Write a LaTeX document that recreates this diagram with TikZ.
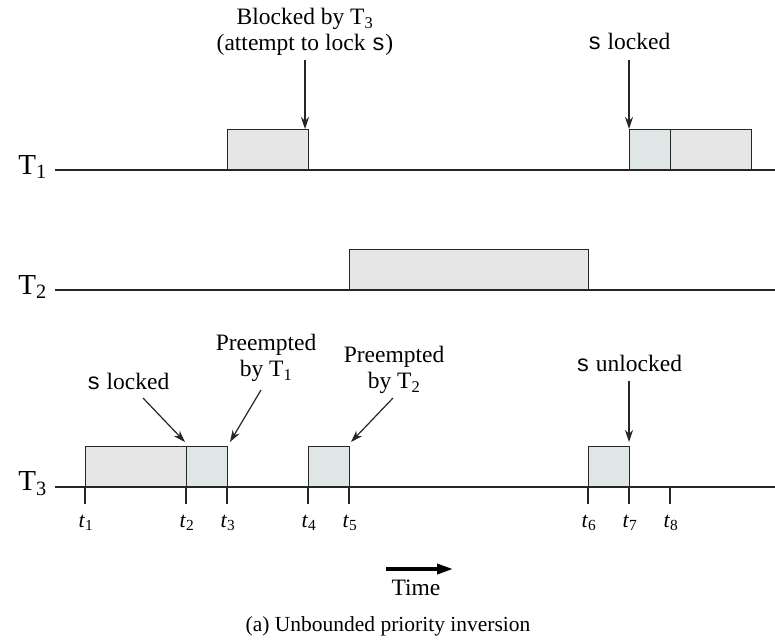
\documentclass[tikz,border=0pt]{standalone}
\usepackage{fontspec}
\setmainfont{Liberation Serif}
\newfontfamily\monof{Liberation Mono}
\usetikzlibrary{arrows.meta}
\definecolor{lc}{HTML}{262626}
\definecolor{gfill}{HTML}{E6E6E6}
\definecolor{bfill}{HTML}{DFE6E6}
\newcommand{\sv}{{\monof s}}
\begin{document}
\begin{tikzpicture}[x=1pt,y=-1pt,
  line/.style={draw=lc,line width=1.3pt},
  gbox/.style={draw=lc,line width=1.3pt,fill=gfill,inner sep=0pt,anchor=south west,minimum height=40pt},
  bbox/.style={draw=lc,line width=1.3pt,fill=bfill,inner sep=0pt,anchor=south west,minimum height=40pt},
  arr/.style={draw=lc,line width=1.2pt,-{Stealth[length=12pt,width=8pt]}},
  lbl/.style={font=\fontsize{23.5}{26.5}\selectfont,align=center,inner sep=0pt},
  tlbl/.style={font=\fontsize{29}{32}\selectfont,inner sep=0pt,anchor=east},
  tick/.style={font=\fontsize{22}{24}\selectfont,inner sep=0pt}
]
\useasboundingbox (0,0) rectangle (775,641);
% timelines
\coordinate (l1a) at (55,170); \coordinate (l1b) at (775,170);
\coordinate (l2a) at (55,290); \coordinate (l2b) at (775,290);
\coordinate (l3a) at (55,487); \coordinate (l3b) at (775,487);
\draw[line] (l1a) -- (l1b);
\draw[line] (l2a) -- (l2b);
\draw[line] (l3a) -- (l3b);
\node[tlbl] (T1) at (47,167) {T\textsubscript{1}};
\node[tlbl] (T2) at (47,287) {T\textsubscript{2}};
\node[tlbl] (T3) at (47,484) {T\textsubscript{3}};
% T1 boxes
\node[gbox,minimum width=81pt] (a1) at (227,170) {};
\node[bbox,minimum width=41pt] (a2) at (629,170) {};
\node[gbox,minimum width=81pt] (a3) at (670,170) {};
% T2 box
\node[gbox,minimum width=239pt] (b1) at (349,290) {};
% T3 boxes
\node[gbox,minimum width=101pt] (c1) at (85,487) {};
\node[bbox,minimum width=41pt] (c2) at (186,487) {};
\node[bbox,minimum width=41pt] (c3) at (308,487) {};
\node[bbox,minimum width=41pt] (c4) at (588,487) {};
% ticks
\foreach \x/\n in {85/1,186/2,227/3,308/4,349/5,588/6,629/7,670/8}{
  \coordinate (k\n) at (\x,487);
  \coordinate (e\n) at (\x,504);
  \draw[line] (k\n) -- (e\n);
  \node[tick] (t\n) at (\x+1,523) {\textit{t}\textsubscript{\n}};
}
% annotations
\node[lbl] (n1) at (305,32) {Blocked by T\textsubscript{3}\\(attempt to lock \sv)};
\coordinate (n1e) at (305,129);
\draw[arr] (305,60) -- (n1e);
\node[lbl] (n2) at (629,41) {\sv\ locked};
\coordinate (n2e) at (629,129);
\draw[arr] (629,60) -- (n2e);
\node[lbl] (n3) at (128,381) {\sv\ locked};
\coordinate (n3s) at (143,398);
\coordinate (n3e) at (185,442);
\draw[arr] (n3s) -- (n3e);
\node[lbl] (n4) at (266,358) {Preempted\\by T\textsubscript{1}};
\coordinate (n4s) at (261,390);
\coordinate (n4e) at (230,442);
\draw[arr] (n4s) -- (n4e);
\node[lbl] (n5) at (394,370) {Preempted\\by T\textsubscript{2}};
\coordinate (n5s) at (393,398);
\coordinate (n5e) at (351,442);
\draw[arr] (n5s) -- (n5e);
\node[lbl] (n6) at (629,363) {\sv\ unlocked};
\coordinate (n6e) at (629,442);
\draw[arr] (629,381) -- (n6e);
% time arrow
\coordinate (ta) at (386,569);
\coordinate (tb) at (453,569);
\draw[draw=black,line width=3.5pt,-{Triangle[length=16pt,width=10pt]}] (ta) -- (tb);
\node[lbl] (time) at (416,588) {Time};
\node[lbl,font=\fontsize{21.5}{24}\selectfont] (cap) at (388,626) {(a) Unbounded priority inversion};
\end{tikzpicture}
\end{document}
